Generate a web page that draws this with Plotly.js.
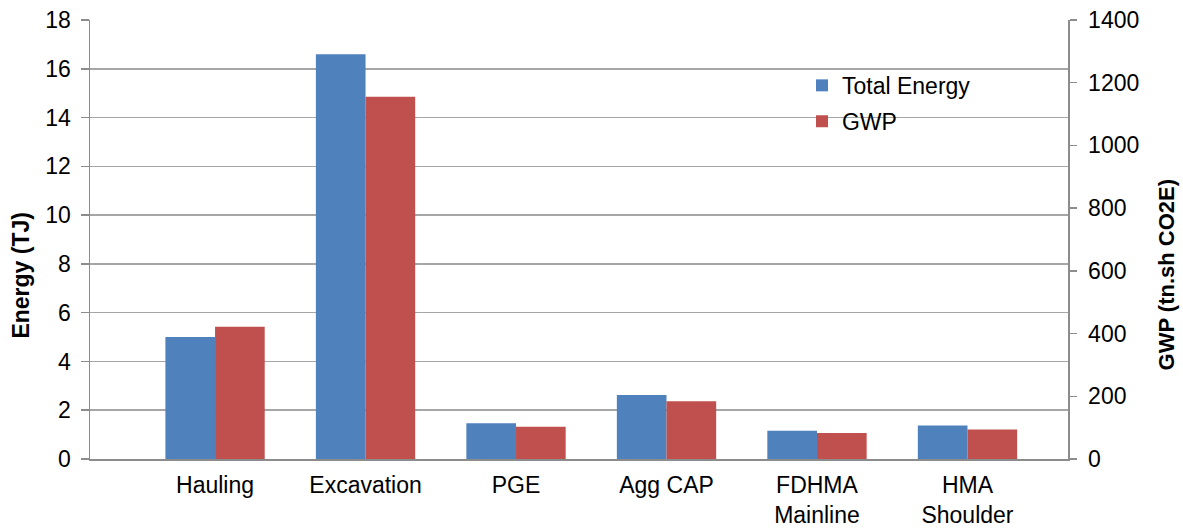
<!DOCTYPE html>
<html>
<head>
<meta charset="utf-8">
<script src="https://cdn.plot.ly/plotly-3.0.1.min.js"></script>
<style>
  html, body { margin: 0; padding: 0; background: #ffffff; }
  #chart { width: 1183px; height: 529px; }
</style>
</head>
<body>
<div id="chart"></div>
<script>
// Life-cycle stages and their totals
const categories = ['Hauling', 'Excavation', 'PGE', 'Agg CAP', 'FDHMA<br>Mainline', 'HMA<br>Shoulder'];
const totalEnergyTJ = [5.0, 16.6, 1.47, 2.62, 1.16, 1.37];
const gwpTonCO2E = [422, 1155, 103, 184, 83, 94];

const energyTicks = [0, 2, 4, 6, 8, 10, 12, 14, 16, 18];
const gwpTicks = [0, 200, 400, 600, 800, 1000, 1200, 1400];

const FONT = 'Liberation Sans, Arial, sans-serif';
const GRID = '#a6a6a6';
const AXIS = '#8c8c8c';
const TEXT = '#000000';

const traces = [
  {
    type: 'bar',
    name: 'Total Energy',
    x: categories,
    y: totalEnergyTJ,
    yaxis: 'y',
    width: 0.33,
    offset: -0.33,
    marker: { color: '#4f81bd' },
    legendgroup: 'energy'
  },
  {
    type: 'bar',
    name: 'GWP',
    x: categories,
    y: gwpTonCO2E,
    yaxis: 'y2',
    width: 0.33,
    offset: 0,
    marker: { color: '#c0504d' },
    legendgroup: 'gwp'
  }
];

const layout = {
  width: 1183,
  height: 529,
  margin: { l: 90, r: 115, t: 20, b: 70 },
  paper_bgcolor: '#ffffff',
  plot_bgcolor: '#ffffff',
  font: { family: FONT, size: 23, color: TEXT },
  barmode: 'overlay',
  showlegend: true,
  legend: {
    x: 0.728, y: 0.9, xanchor: 'left', yanchor: 'top',
    bgcolor: 'rgba(0,0,0,0)',
    font: { family: FONT, size: 23, color: TEXT },
    tracegroupgap: 3,
    traceorder: 'grouped',
    itemwidth: 30
  },
  xaxis: {
    type: 'category',
    range: [-0.831, 5.668],
    showgrid: false,
    showline: true,
    linecolor: AXIS,
    linewidth: 1.5,
    ticks: '',
    ticklabelstandoff: 5,
    tickfont: { family: FONT, size: 23, color: TEXT },
    fixedrange: true
  },
  yaxis: {
    range: [0, 18],
    tickvals: energyTicks,
    showgrid: true,
    gridcolor: GRID,
    gridwidth: 1.5,
    showline: true,
    linecolor: AXIS,
    linewidth: 1.5,
    ticks: 'outside',
    ticklen: 8,
    tickcolor: AXIS,
    tickwidth: 1.5,
    zeroline: false,
    ticklabelstandoff: 5,
    tickfont: { family: FONT, size: 23, color: TEXT },
    fixedrange: true
  },
  yaxis2: {
    overlaying: 'y',
    side: 'right',
    range: [0, 1400],
    tickvals: gwpTicks,
    showgrid: false,
    showline: true,
    linecolor: AXIS,
    linewidth: 1.5,
    ticks: 'outside',
    ticklen: 7,
    tickcolor: AXIS,
    tickwidth: 1.5,
    zeroline: false,
    ticklabelstandoff: 7,
    tickfont: { family: FONT, size: 23, color: TEXT },
    fixedrange: true
  },
  annotations: [
    {
      // left axis title
      text: '<b>Energy (TJ)</b>', textangle: -90, showarrow: false,
      xref: 'paper', yref: 'paper', x: -0.0706, y: 0.42,
      xanchor: 'center', yanchor: 'middle',
      font: { family: FONT, size: 23, color: TEXT }
    },
    {
      // right axis title
      text: '<b>GWP (tn.sh CO2E)</b>', textangle: -90, showarrow: false,
      xref: 'paper', yref: 'paper', x: 1.101, y: 0.42,
      xanchor: 'center', yanchor: 'middle',
      font: { family: FONT, size: 22, color: TEXT }
    }
  ],
  shapes: [
    {
      // white backing behind the legend, under the bars but over the gridlines
      type: 'rect', xref: 'paper', yref: 'paper',
      x0: 0.729, x1: 0.921, y0: 0.70, y1: 0.91,
      fillcolor: '#ffffff', line: { width: 0 }, layer: 'between'
    }
  ]
};

Plotly.newPlot('chart', traces, layout, { displayModeBar: false, staticPlot: true });
</script>
</body>
</html>
